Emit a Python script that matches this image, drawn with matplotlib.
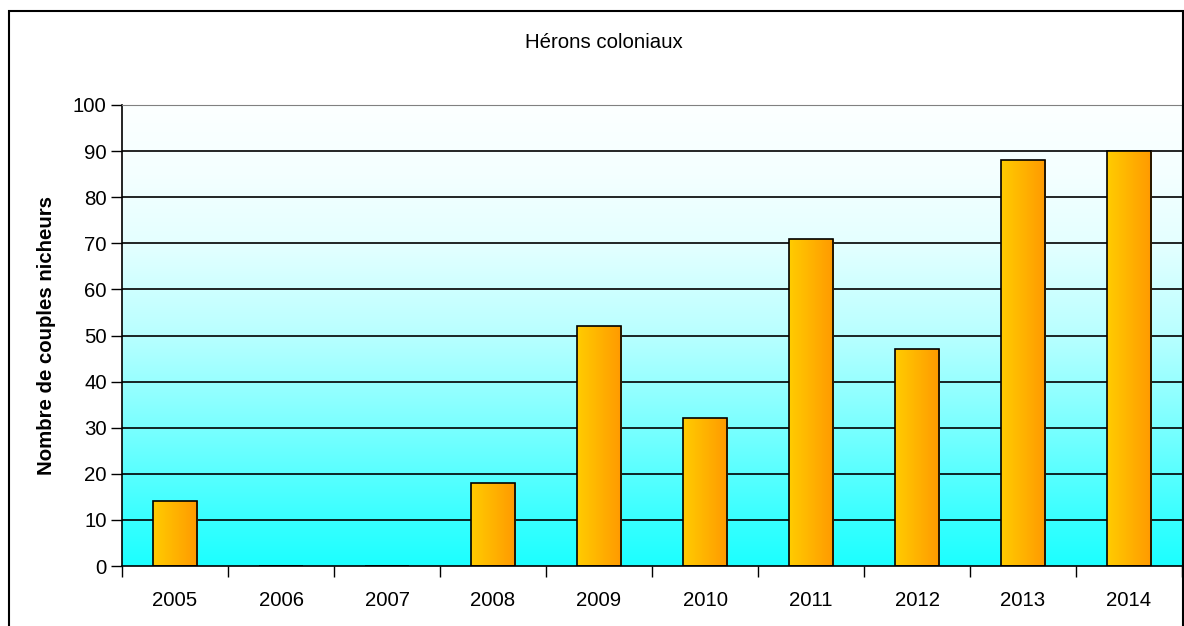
import matplotlib.pyplot as plt
import numpy as np
from matplotlib.patches import Rectangle
from matplotlib.colors import LinearSegmentedColormap

years = ['2005', '2006', '2007', '2008', '2009', '2010', '2011', '2012', '2013', '2014']
couples = [14, 0, 0, 18, 52, 32, 71, 47, 88, 90]
yticks = [0, 10, 20, 30, 40, 50, 60, 70, 80, 90, 100]

plt.rcParams['font.family'] = ['Liberation Sans', 'DejaVu Sans']
FS = 14.7

W, H = 1184, 626
fig = plt.figure(figsize=(W / 100, H / 100), dpi=100)
ax = fig.add_axes([122 / W, (H - 566) / H, 1060 / W, 461 / H])

x = np.arange(len(years))
ax.set_xlim(-0.5, len(years) - 0.5)
ax.set_ylim(0, 100)

# background gradient, cyan at bottom fading to near white at top
bg_cmap = LinearSegmentedColormap.from_list('bg', [
    (0.0, '#1cffff'), (0.1, '#38ffff'), (0.3, '#7affff'), (0.5, '#b8ffff'),
    (0.7, '#e4ffff'), (0.85, '#f4ffff'), (1.0, '#fcffff')])
grad = np.linspace(0, 1, 256).reshape(-1, 1)
ax.imshow(grad, cmap=bg_cmap, origin='lower', aspect='auto',
          extent=[-0.5, len(years) - 0.5, 0, 100], zorder=0)

# gridlines
for t in yticks[1:]:
    ax.axhline(t, color='#808080' if t == 100 else 'black', lw=1.2, zorder=1)

bar_cmap = LinearSegmentedColormap.from_list('bar', ['#ffcc00', '#ff9900'])
hgrad = np.linspace(0, 1, 256).reshape(1, -1)
bars = ax.bar(x, couples, width=0.42, color='none', edgecolor='black', lw=1.2, zorder=3)
for b, v in zip(bars, couples):
    if v <= 0:
        continue
    x0, w = b.get_x(), b.get_width()
    im = ax.imshow(hgrad, cmap=bar_cmap, aspect='auto',
                   extent=[x0, x0 + w, 0, v], zorder=2)
    im.set_clip_path(b)

ax.set_xticks(np.arange(len(years) + 1) - 0.5, minor=False)
ax.set_xticklabels([])
ax.set_xticks(x, minor=True)
ax.set_xticklabels(years, minor=True)
ax.tick_params(axis='x', which='major', length=8, width=1, direction='out', color='black')
ax.tick_params(axis='x', which='minor', length=0, pad=18, labelsize=FS)
ax.set_yticks(yticks)
ax.tick_params(axis='y', length=8, width=1, direction='out', pad=3, labelsize=FS)

for s in ['top', 'right']:
    ax.spines[s].set_color('#808080')
for s in ['left', 'bottom']:
    ax.spines[s].set_color('black')
    ax.spines[s].set_linewidth(1.2)

ax.set_ylabel('Nombre de couples nicheurs', fontsize=FS, fontweight='bold', labelpad=12)
fig.text(604 / W, 1 - 43 / H, 'Hérons coloniaux', ha='center', va='center', fontsize=FS)

fig.patches.append(Rectangle((9 / W, -0.05), 1174 / W, 1.05 - 11 / H, transform=fig.transFigure,
                             fill=False, edgecolor='black', lw=1.5))

fig.savefig('out.png', dpi=100)
